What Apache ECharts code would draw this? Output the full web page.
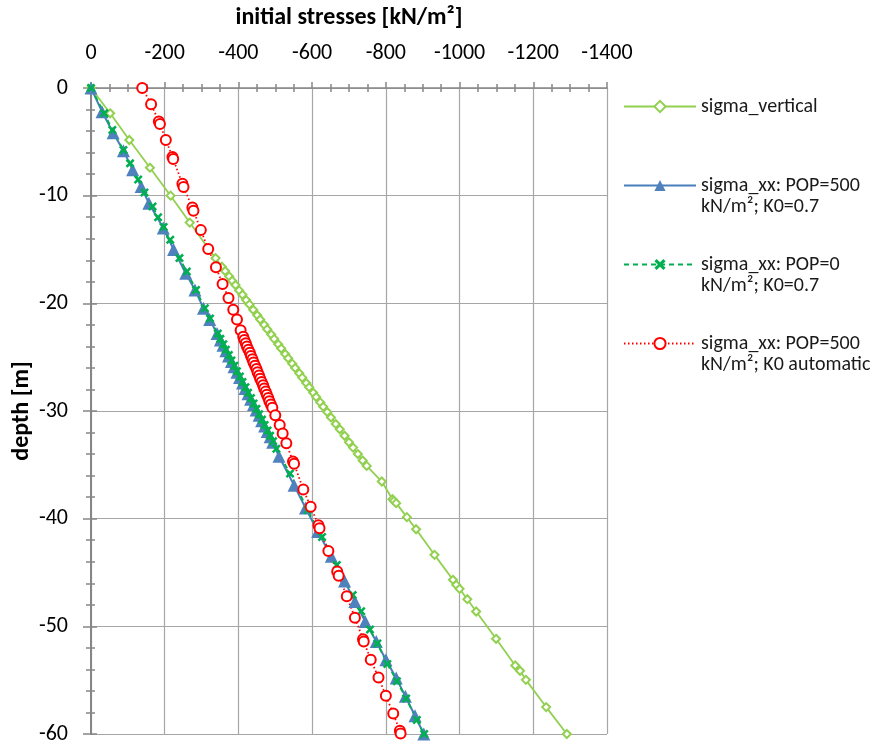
<!DOCTYPE html>
<html>
<head>
<meta charset="utf-8">
<script src="https://cdn.jsdelivr.net/npm/echarts@6/dist/echarts.min.js"></script>
<style>
html,body{margin:0;padding:0;background:#fff;}
#chart{width:881px;height:747px;}
</style>
</head>
<body>
<div id="chart"></div>
<script>
// ---- axis settings ----
var xTitle = 'initial stresses [kN/m²]';
var yTitle = 'depth [m]';
var xMin = -1400, xMax = 0, xStep = 200;
var yMin = -60, yMax = 0, yStep = 10;

// ---- series names ----
var nameVertical = 'sigma_vertical';
var nameXX500 = 'sigma_xx: POP=500\nkN/m²; K0=0.7';
var nameXX0 = 'sigma_xx: POP=0\nkN/m²; K0=0.7';
var nameXXauto = 'sigma_xx: POP=500\nkN/m²; K0 automatic';

// ---- sigma_vertical ----
var vertDepth = [0,-2.35,-4.83,-7.4,-10.0,-12.5,-14.97,-15.8,-16.6,-17.0,-17.5,-17.9,-18.3,-18.8,-19.2,-19.7,-20.1,-20.6,-21.1,-21.5,-22.0,-22.4,-22.9,-23.3,-23.8,-24.2,-24.7,-25.1,-25.6,-26.0,-26.5,-26.9,-27.4,-27.8,-28.3,-28.7,-29.2,-29.6,-30.1,-30.6,-31.2,-31.7,-32.3,-32.9,-33.4,-34.0,-34.6,-35.1,-36.55,-38.2,-38.35,-38.56,-39.86,-40.98,-43.36,-45.68,-46.15,-46.52,-47.48,-48.62,-51.16,-53.64,-54.13,-54.97,-57.5,-60.0];
var vertStress = [0,-52,-104,-160,-216,-268,-320,-338,-355,-364,-375,-383,-392,-402,-411,-421,-430,-440,-451,-459,-470,-478,-489,-497,-508,-516,-527,-535,-546,-554,-565,-573,-584,-592,-603,-611,-622,-630,-641,-651,-664,-675,-688,-700,-711,-724,-737,-748,-789,-818,-822,-828,-857,-882,-932,-982,-991,-1000,-1021,-1045,-1099,-1151,-1164,-1180,-1235,-1291];

// ---- sigma_xx: POP=500, K0=0.7 ----
var xx500Depth = [0,-2.2,-4.15,-5.82,-7.6,-9.16,-10.7,-13.0,-15.0,-17.2,-18.75,-20.45,-21.5,-22.8,-23.4,-23.9,-24.4,-24.9,-25.4,-25.9,-26.4,-26.9,-27.4,-27.9,-28.4,-28.9,-29.4,-29.9,-30.4,-30.9,-31.4,-31.9,-32.4,-32.9,-34.2,-36.9,-39.0,-41.2,-43.5,-45.8,-47.7,-49.55,-51.4,-53.1,-54.8,-56.5,-58.3,-60.0];
var xx500Stress = [0,-30,-60,-88,-113,-136,-157,-196,-224,-257,-282,-305,-322,-342,-351,-358,-366,-373,-381,-388,-396,-403,-411,-418,-426,-433,-441,-448,-456,-463,-471,-478,-486,-493,-510,-551,-582,-615,-652,-688,-716,-744,-774,-800,-828,-853,-879,-903];

// ---- sigma_xx: POP=0, K0=0.7 ----
var xx0Depth = [0,-2.35,-3.9,-5.76,-7.0,-8.5,-9.7,-11.0,-12.0,-12.9,-14.1,-15.8,-17.05,-18.75,-20.45,-21.4,-22.8,-23.3,-23.8,-24.3,-24.8,-25.3,-25.8,-26.3,-26.8,-27.3,-27.8,-28.3,-28.8,-29.3,-29.8,-30.3,-30.8,-31.3,-31.8,-32.3,-32.8,-33.5,-35.8,-39.2,-41.7,-44.3,-47.1,-48.6,-50.3,-51.6,-53.5,-55.1,-56.7,-58.7,-60.0];
var xx0Stress = [0,-36,-58,-88,-106,-128,-145,-167,-182,-197,-215,-240,-260,-285,-309,-323,-344,-351,-359,-366,-374,-381,-389,-396,-404,-411,-419,-426,-434,-441,-449,-456,-464,-471,-479,-486,-494,-503,-540,-588,-627,-667,-710,-733,-757,-777,-804,-830,-855,-884,-904];

// ---- sigma_xx: POP=500, K0 automatic ----
var xxAutoDepth = [0,-1.5,-3.1,-3.35,-4.83,-6.4,-6.6,-8.9,-9.2,-11.1,-11.4,-13.2,-14.95,-16.65,-18.2,-19.5,-20.6,-21.5,-22.5,-23.1,-23.4,-23.7,-24.0,-24.3,-24.6,-24.9,-25.2,-25.5,-25.8,-26.1,-26.4,-26.7,-27.0,-27.3,-27.6,-27.9,-28.2,-28.5,-28.8,-29.1,-29.4,-29.7,-30.4,-31.3,-32.1,-33.0,-34.7,-34.9,-37.3,-38.9,-40.6,-40.9,-43.0,-44.9,-45.3,-47.2,-49.2,-51.2,-51.4,-53.1,-54.75,-56.45,-58.1,-59.7,-59.95];
var xxAutoStress = [-139,-163,-184,-187,-203,-221,-223,-248,-251,-275,-278,-298,-318,-339,-357,-373,-386,-396,-406,-413,-416,-420,-423,-427,-431,-434,-438,-441,-445,-449,-452,-456,-459,-463,-467,-470,-474,-477,-481,-484,-488,-492,-500,-512,-520,-530,-548,-551,-576,-596,-617,-620,-644,-668,-672,-694,-716,-738,-740,-759,-780,-800,-820,-838,-840];

function pairs(xs, ys){ var out=[]; for(var i=0;i<xs.length;i++) out.push([xs[i], ys[i]]); return out; }

var FONT = 'Carlito, Lato, "Liberation Sans", sans-serif';
var xMark = 'path://M2,0 L5,3 L8,0 L10,2 L7,5 L10,8 L8,10 L5,7 L2,10 L0,8 L3,5 L0,2 Z';

var chart = echarts.init(document.getElementById('chart'), null, {renderer:'canvas'});

var axisLineColor = '#868686';
var gridColor = '#A6A6A6';

function legendItem(name, top, twoLine){
  return {
    data:[name], left: 623, top: top, orient:'vertical', padding:0,
    itemWidth: 72, itemHeight: 14, itemGap: 0, selectedMode:false,
    formatter: function(n){ return twoLine ? '\u00a0\n' + n : n; },
    textStyle:{ fontFamily: FONT, fontSize:20, lineHeight:21, color:'#1a1a1a' }
  };
}

var plainNum = function(v){ return String(v); };

var option = {
  animation:false,
  backgroundColor:'#fff',
  textStyle:{fontFamily:FONT},
  grid:{left:91, top:88, right:274, bottom:13, containLabel:false, outerBoundsMode:'none'},
  legend:[
    legendItem(nameVertical, 96, false),
    legendItem(nameXX500, 154, true),
    legendItem(nameXX0, 233, true),
    legendItem(nameXXauto, 312, true)
  ],
  xAxis:[{
    type:'value', position:'top', min:xMin, max:xMax, interval:xStep, inverse:true,
    name:xTitle, nameLocation:'middle', nameGap:58, nameMoveOverlap:false,
    nameTextStyle:{fontFamily:FONT, fontSize:24, fontWeight:'bold', color:'#000'},
    axisLine:{show:true, onZero:false, lineStyle:{color:axisLineColor, width:1.5}},
    axisTick:{show:true, inside:false, length:6, lineStyle:{color:axisLineColor, width:1.5}},
    minorTick:{show:true, splitNumber:4, length:4, lineStyle:{color:axisLineColor, width:1.5}},
    axisLabel:{fontFamily:FONT, fontSize:22, color:'#000', margin:24, formatter:plainNum},
    splitLine:{show:true, lineStyle:{color:gridColor, width:1.2}}
  },{
    type:'value', position:'top', min:xMin, max:xMax, interval:xStep, inverse:true,
    axisLine:{show:false}, axisLabel:{show:false}, splitLine:{show:false},
    axisTick:{show:false, inside:true},
    minorTick:{show:true, splitNumber:4, length:4, lineStyle:{color:axisLineColor, width:1.5}}
  }],
  yAxis:[{
    type:'value', position:'left', min:yMin, max:yMax, interval:yStep,
    name:yTitle, nameLocation:'middle', nameGap:57, nameRotate:90, nameMoveOverlap:false,
    nameTextStyle:{fontFamily:FONT, fontSize:24, fontWeight:'bold', color:'#000'},
    axisLine:{show:true, onZero:false, lineStyle:{color:axisLineColor, width:2}},
    axisTick:{show:true, inside:false, length:8, lineStyle:{color:axisLineColor, width:1.5}},
    minorTick:{show:true, splitNumber:5, length:5, lineStyle:{color:axisLineColor, width:1.5}},
    axisLabel:{fontFamily:FONT, fontSize:22, color:'#000', margin:23, formatter:plainNum},
    splitLine:{show:true, lineStyle:{color:gridColor, width:1.2}}
  },{
    type:'value', position:'left', min:yMin, max:yMax, interval:yStep,
    axisLine:{show:false}, axisLabel:{show:false}, splitLine:{show:false},
    axisTick:{show:true, inside:true, length:6, lineStyle:{color:axisLineColor, width:1.5}},
    minorTick:{show:true, splitNumber:5, length:4, lineStyle:{color:axisLineColor, width:1.5}}
  }],
  series:[
    {
      name:nameVertical, type:'line', data:pairs(vertStress, vertDepth),
      symbol:'emptyDiamond', symbolSize:8,
      lineStyle:{color:'#92D050', width:1.8},
      itemStyle:{color:'#92D050', borderColor:'#92D050', borderWidth:1.5}
    },
    {
      name:nameXX500, type:'line', data:pairs(xx500Stress, xx500Depth),
      symbol:'triangle', symbolSize:13,
      lineStyle:{color:'#4A7EBB', width:2},
      itemStyle:{color:'#4F81BD'}
    },
    {
      name:nameXX0, type:'line', data:pairs(xx0Stress, xx0Depth),
      symbol:xMark, symbolSize:9,
      lineStyle:{color:'#00B050', width:1.8, type:[5,4]},
      itemStyle:{color:'#00B050'}
    },
    {
      name:nameXXauto, type:'line', data:pairs(xxAutoStress, xxAutoDepth),
      symbol:'emptyCircle', symbolSize:10,
      lineStyle:{color:'#FF0000', width:1.8, type:[1.5,2.5]},
      itemStyle:{color:'#FF0000', borderColor:'#FF0000', borderWidth:2}
    }
  ]
};
chart.setOption(option);
</script>
</body>
</html>
